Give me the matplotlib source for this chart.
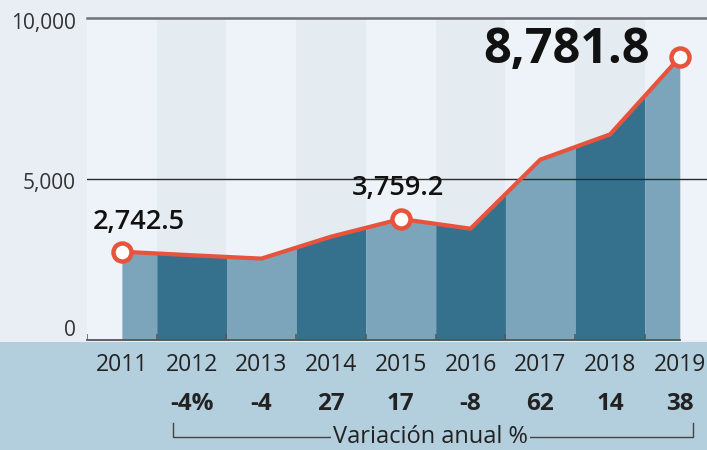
import numpy as np
import matplotlib
matplotlib.use("Agg")
import matplotlib.pyplot as plt
from matplotlib.patches import Rectangle

# data
YEARS = ["2011", "2012", "2013", "2014", "2015", "2016", "2017", "2018", "2019"]
VALUES = [2742.5, 2633.0, 2528.0, 3210.0, 3759.2, 3458.0, 5602.0, 6386.0, 8781.8]
VARIATION = ["", "-4%", "-4", "27", "17", "-8", "62", "14", "38"]
HIGHLIGHT = [0, 4, 8]
Y_TICKS = [0, 5000, 10000]
Y_TICK_LABELS = ["0", "5,000", "10,000"]
VAR_TITLE = "Variación anual %"

# theme
BG = "#e8eef4"
BAND_LIGHT = "#eef3f9"
BAND_DARK = "#e4ebf1"
AREA_LIGHT = "#7ca5bb"
AREA_DARK = "#35718d"
BOTTOM = "#b3cedc"
RED = "#e8533e"
TXT = "#222222"
FONT = ["Open Sans", "DejaVu Sans"]

fig = plt.figure(figsize=(7.07, 4.5), dpi=100, facecolor=BG)
fig.patches.append(Rectangle((0, 0), 1, 108 / 450, transform=fig.transFigure,
                             facecolor=BOTTOM, edgecolor="none", zorder=-1))
ax = fig.add_axes([87 / 707, 110 / 450, 620 / 707, 322 / 450])
ax.set_facecolor(BG)

x = np.arange(len(YEARS))
vals = np.array(VALUES)
ax.set_xlim(-0.5, 8.39)
ax.set_ylim(0, 10000)

# alternating column bands (background + area strips)
for i in x:
    ax.axvspan(i - 0.5, i + 0.5, color=BAND_LIGHT if i % 2 == 0 else BAND_DARK,
               lw=0, zorder=0)
    lo, hi = max(i - 0.5, 0), min(i + 0.5, x[-1])
    xs = np.array([lo, i, hi])
    ys = np.interp(xs, x, vals)
    ax.fill_between(xs, 0, ys, color=AREA_LIGHT if i % 2 == 0 else AREA_DARK,
                    lw=0, zorder=1)

# grid lines + baseline
ax.axhline(5000, color="#2b2b2b", lw=1.0, zorder=2)
ax.axhline(10000, color="#6f7377", lw=1.8, zorder=2, clip_on=False)
ax.plot([-0.5, x[-1]], [0, 0], color="#555555", lw=1.3, zorder=2, clip_on=False)
ax.vlines(np.arange(-0.5, x[-1], 1.0), 0, 190, color="#555555", lw=1.1, zorder=2)

# line + highlighted points
ax.plot(x, vals, color=RED, lw=3.0, zorder=4, solid_capstyle="round")
ax.plot(x[HIGHLIGHT], vals[HIGHLIGHT], "o", ms=13, mfc="white", mec=RED,
        mew=3.2, zorder=5)

label_style = {
    0: dict(off=(-29, 30), ha="left", size=19.5, weight="semibold"),
    4: dict(off=(-3, 31), ha="center", size=19.5, weight="semibold"),
    8: dict(off=(-30, 7), ha="right", size=35, weight="bold"),
}
for i in HIGHLIGHT:
    st = label_style[i]
    ax.annotate(f"{vals[i]:,.1f}", (x[i], vals[i]), xytext=st["off"],
                textcoords="offset pixels", ha=st["ha"], va="center",
                fontsize=st["size"], fontweight=st["weight"], color="#111",
                family=FONT, zorder=6)

# y labels
y_off = {0: 9, 5000: -5, 10000: -5}
for v, lab in zip(Y_TICKS, Y_TICK_LABELS):
    ax.annotate(lab, (0, v), xycoords=("axes fraction", "data"),
                xytext=(-11, y_off[v]), textcoords="offset pixels",
                ha="right", va="center", fontsize=15, color="#333",
                family=FONT, annotation_clip=False)

# year + variation labels
for i, (yr, var) in enumerate(zip(YEARS, VARIATION)):
    ax.annotate(yr, (x[i], 0), xycoords=("data", "axes fraction"),
                xytext=(0, -25), textcoords="offset pixels", ha="center",
                va="center", fontsize=16.5, color=TXT, family=FONT,
                annotation_clip=False)
    if var:
        ax.annotate(var, (x[i], 0), xycoords=("data", "axes fraction"),
                    xytext=(0, -64), textcoords="offset pixels", ha="center",
                    va="center", fontsize=17.5, fontweight="bold", color=TXT,
                    family=FONT, annotation_clip=False)

# bracket under variations
tr = ax.get_xaxis_transform()
yb, yt = -97 / 322, -83 / 322
bx0, bx1 = 0.73, 8.19
ax.plot([bx0, bx0, bx1, bx1], [yt, yb, yb, yt], color="#444", lw=1.0,
        transform=tr, clip_on=False, zorder=3)
ax.text(4.43, yb, VAR_TITLE, transform=tr, ha="center", va="center",
        fontsize=17, color=TXT, family=FONT, zorder=4,
        bbox=dict(facecolor=BOTTOM, edgecolor="none", pad=1.5))

for sp in ax.spines.values():
    sp.set_visible(False)
ax.set_xticks([])
ax.set_yticks([])

fig.savefig("out.png", dpi=100, facecolor=BG)
